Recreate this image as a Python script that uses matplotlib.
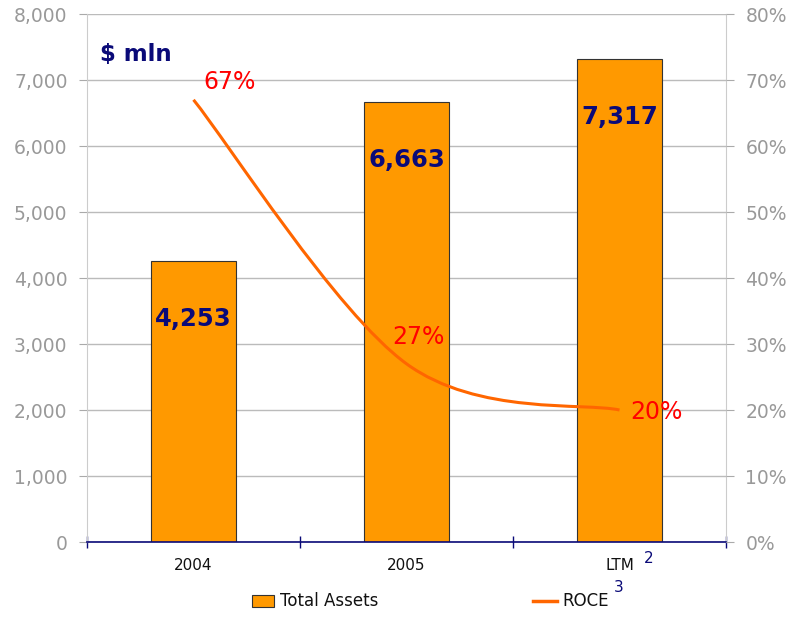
import numpy as np
import matplotlib.pyplot as plt
from matplotlib.path import Path
from matplotlib.patches import PathPatch, Rectangle
from matplotlib.lines import Line2D

# values
periods = ['2004', '2005', 'LTM']
total_assets = [4253, 6663, 7317]
roce = [0.67, 0.27, 0.20]
asset_labels = ['4,253', '6,663', '7,317']
roce_labels = ['67%', '27%', '20%']

orange = '#FF9900'
line_orange = '#FF6600'
navy = '#0A0A78'
grey = '#999999'

W, H = 798, 620
fig = plt.figure(figsize=(W / 100, H / 100), dpi=100)
ax = fig.add_axes([87 / W, 78 / H, (726 - 87) / W, (542 - 14) / H])
x = np.arange(len(periods))

ax.bar(x, total_assets, width=0.4, color=orange, edgecolor='#333333', linewidth=0.8, zorder=2)
ax.set_xlim(-0.5, 2.5)
ax.set_ylim(0, 8000)
ax.set_yticks(np.arange(0, 8001, 1000))
ax.set_yticklabels([f'{v:,}' for v in range(0, 8001, 1000)])
ax.grid(axis='y', color='#bbbbbb', linewidth=1, zorder=0)
ax.set_axisbelow(True)

# category boundaries as ticks, names in the middle
ax.set_xticks([-0.5, 0.5, 1.5, 2.5])
ax.set_xticklabels([])
ax.tick_params(axis='x', direction='inout', length=8, color=navy, width=1)
for xi, name in zip(x, periods):
    ax.text(xi, -350, name, ha='center', va='center', fontsize=11, color='#111111')
ax.text(2.136, -250, '2', ha='center', va='center', fontsize=11, color=navy)

ax.tick_params(axis='y', labelsize=13.5, labelcolor=grey, color='#aaaaaa', length=6, pad=8)
for s in ['left', 'right']:
    ax.spines[s].set_color('#cccccc')
ax.spines['top'].set_visible(False)
ax.spines['bottom'].set_color(navy)
ax.spines['bottom'].set_linewidth(1.2)

for xi, v, lab in zip(x, total_assets, asset_labels):
    ax.text(xi, v - 880, lab, ha='center', va='center', fontsize=17.5, fontweight='bold', color=navy)

ax.text(-0.44, 7380, '$ mln', ha='left', va='center', fontsize=16.5, fontweight='bold', color=navy)

# ROCE on the right-hand scale, smoothed through the three points
ax2 = ax.twinx()
ax2.set_ylim(0, 0.8)
ax2.set_yticks(np.arange(0, 0.81, 0.1))
ax2.set_yticklabels([f'{int(round(v * 100))}%' for v in np.arange(0, 0.81, 0.1)])
ax2.tick_params(axis='y', labelsize=13.5, labelcolor=grey, color='#aaaaaa', length=6, pad=8)
for s in ['left', 'right', 'top', 'bottom']:
    ax2.spines[s].set_visible(False)

pts = np.column_stack([x, roce]).astype(float)
tang = np.zeros_like(pts)
tang[0] = (pts[1] - pts[0]) / 2
tang[-1] = (pts[-1] - pts[-2]) / 2
for i in range(1, len(pts) - 1):
    tang[i] = (pts[i + 1] - pts[i - 1]) / 2
verts = [pts[0]]
codes = [Path.MOVETO]
for i in range(len(pts) - 1):
    verts += [pts[i] + tang[i] / 3, pts[i + 1] - tang[i + 1] / 3, pts[i + 1]]
    codes += [Path.CURVE4] * 3
ax2.add_patch(PathPatch(Path(verts, codes), facecolor='none', edgecolor=line_orange,
                        linewidth=2.2, zorder=3))

offsets = [(0.047, 0.027), (-0.066, 0.04), (0.052, -0.003)]
for xi, v, lab, (dx, dy) in zip(x, roce, roce_labels, offsets):
    ax2.text(xi + dx, v + dy, lab, ha='left', va='center', fontsize=17, color='#FF0000', zorder=4)

# legend along the bottom
fig.add_artist(Rectangle((252 / W, 1 - 607 / H), 22 / W, 12 / H, transform=fig.transFigure,
                         facecolor=orange, edgecolor='#333333', linewidth=0.8))
fig.text(280 / W, 1 - 601 / H, 'Total Assets', ha='left', va='center', fontsize=12, color='#111111')
fig.add_artist(Line2D([533 / W, 557 / W], [1 - 601 / H] * 2, transform=fig.transFigure,
                      color=line_orange, linewidth=2.5))
fig.text(562 / W, 1 - 601 / H, 'ROCE', ha='left', va='center', fontsize=12, color='#111111')
fig.text(619 / W, 1 - 588 / H, '3', ha='center', va='center', fontsize=11, color=navy)

fig.savefig('out.png', dpi=100)
